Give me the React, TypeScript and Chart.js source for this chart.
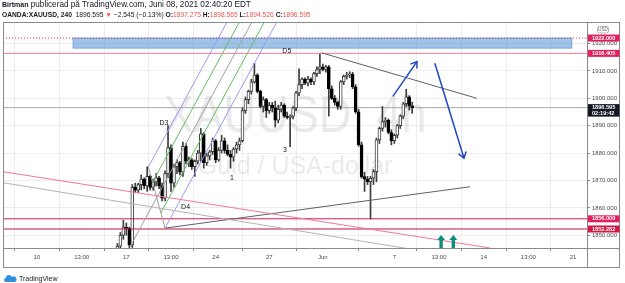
import React, { useEffect, useRef } from 'react';
import { Chart, registerables } from 'chart.js';

Chart.register(...registerables);

const FONT = '"Liberation Sans", Arial, sans-serif';

// ---------- axes (x unit = 4h bar index, 0 = first bar of 10 May) ----------
const X_MIN = -11.42;
const X_MAX = 184.7;
const Y_MIN = 1845.34;
const Y_MAX = 1927.86;
const X_TICK_VALUES = [0, 15, 30, 45, 60, 78, 96, 120, 135, 150, 165, 180];
const X_TICK_LABELS = ['10', '13:00', '17', '13:00', '24', '27', 'Jun', '7', '13:00', '14', '13:00', '21'];
const Y_TICK_VALUES = [1850, 1860, 1870, 1880, 1890, 1900, 1910, 1920];

// ---------- candles ----------
const FIRST_BAR = 27;
const OPENS = [
  1843.5, 1846, 1850, 1853, 1852.5, 1846.5, 1867.5, 1866.5, 1868.5, 1870.5,
  1868, 1871.5, 1867.5, 1869.5, 1871, 1868, 1863.5, 1872.5, 1882, 1869,
  1875, 1876.5, 1873, 1882.5, 1877, 1877.5, 1875, 1877, 1880, 1887,
  1876.5, 1879, 1880.5, 1884.5, 1877.5, 1881, 1884.5, 1881, 1879.5, 1878.5,
  1881.5, 1883, 1884.5, 1895.5, 1899.5, 1902.5, 1906, 1908.5, 1902.5, 1897,
  1899.5, 1895.5, 1897.5, 1896.5, 1892, 1896, 1897.5, 1893.5, 1893, 1893.5,
  1896.5, 1902, 1905, 1907, 1905.5, 1907, 1906, 1909, 1910.5, 1911.5,
  1910.5, 1911.5, 1903.5, 1900, 1898.5, 1897, 1906, 1908, 1908.5, 1908.8,
  1904.2, 1895.1, 1883, 1871.4, 1870.5, 1869.6, 1870.8, 1873.2, 1884.8, 1889,
  1891.5, 1892, 1887.5, 1884.5, 1886.5, 1890, 1893.5, 1898, 1900.5, 1897.275,
];
const HIGHS = [
  1847, 1851, 1855.5, 1854.5, 1853, 1868.5, 1869, 1869, 1872, 1871,
  1875, 1872, 1870.5, 1872.5, 1871.5, 1869, 1873.5, 1890, 1883, 1876,
  1877.5, 1877, 1884, 1883.5, 1878.5, 1878, 1877.5, 1881, 1889, 1887.5,
  1880, 1881, 1885.5, 1885, 1882, 1886.5, 1885.5, 1883, 1881, 1882,
  1884, 1885.5, 1896.5, 1900.5, 1903, 1907, 1912.8, 1909, 1903, 1900.5,
  1900, 1898.5, 1898.5, 1899, 1897.5, 1898.5, 1898, 1895, 1894, 1897,
  1902.5, 1910.8, 1907.5, 1907.5, 1908, 1907.5, 1909.5, 1911.5, 1916.4, 1912.5,
  1912, 1912, 1904.5, 1901, 1899, 1906.5, 1908.5, 1909.5, 1909.7, 1909.5,
  1905, 1896, 1884, 1873, 1871.5, 1871.5, 1874, 1885.5, 1889.5, 1897,
  1893, 1892.5, 1888.5, 1887, 1890.5, 1894, 1898.5, 1903.3, 1901, 1898.565,
];
const LOWS = [
  1842.5, 1845, 1848.5, 1850, 1845.5, 1845.5, 1865.5, 1865.5, 1866.5, 1867,
  1866, 1866.5, 1866.5, 1868, 1867, 1862.5, 1862.5, 1871, 1866, 1867.5,
  1872.5, 1872, 1871.5, 1876, 1875, 1874, 1871.5, 1876, 1877, 1874.5,
  1875.5, 1877.5, 1879.5, 1876.5, 1877, 1880, 1880, 1879, 1874.5, 1877,
  1880, 1881, 1884, 1894.5, 1898, 1901.5, 1905.5, 1902, 1896.5, 1895,
  1893, 1894.5, 1895, 1889.5, 1891, 1895, 1893, 1892.5, 1882.3, 1892.5,
  1895.5, 1901, 1903.5, 1905, 1904.5, 1905, 1905, 1908, 1909, 1910,
  1909.5, 1893.5, 1899.5, 1897.5, 1896, 1896, 1905, 1907, 1907.5, 1903.5,
  1894.5, 1882.5, 1870.8, 1866, 1868.5, 1855.9, 1868.5, 1869.5, 1883.5, 1888,
  1889.5, 1887, 1883, 1883.5, 1885.5, 1889, 1892.5, 1897, 1895.7, 1894.526,
];
const CLOSES = [
  1846, 1850, 1853, 1852.5, 1846.5, 1867.5, 1866.5, 1868.5, 1870.5, 1868,
  1871.5, 1867.5, 1869.5, 1871, 1868, 1863.5, 1872.5, 1882, 1869, 1875,
  1876.5, 1873, 1882.5, 1877, 1877.5, 1875, 1877, 1880, 1887, 1876.5,
  1879, 1880.5, 1884.5, 1877.5, 1881, 1884.5, 1881, 1879.5, 1878.5, 1881.5,
  1883, 1884.5, 1895.5, 1899.5, 1902.5, 1906, 1908.5, 1902.5, 1897, 1899.5,
  1895.5, 1897.5, 1896.5, 1892, 1896, 1897.5, 1893.5, 1893, 1893.5, 1896.5,
  1902, 1905, 1907, 1905.5, 1907, 1906, 1909, 1910.5, 1911.5, 1910.5,
  1911.5, 1903.5, 1900, 1898.5, 1897, 1906, 1908, 1908.5, 1908.8, 1904.2,
  1895.1, 1883, 1871.4, 1870.5, 1869.6, 1870.8, 1873.2, 1884.8, 1889, 1891.5,
  1892, 1887.5, 1884.5, 1886.5, 1890, 1893.5, 1898, 1900.5, 1897.3, 1896.595,
];

// ---------- drawings (bar index, price) ----------
const PITCHFORK_A = { x: 31.2, y: 1845.7 };
const PITCHFORK_B = { x: 37.4, y: 1874.9 };
const PITCHFORK_C = { x: 43.0, y: 1852.6 };
const PITCHFORK_END_PRICE = 1935;
const TREND_UPPER = [{ x: 95.6, y: 1916.6 }, { x: 147.7, y: 1900.0 }];
const TREND_LOWER = [{ x: 43.0, y: 1852.6 }, { x: 145.4, y: 1867.7 }];
const PINK_DIAGONAL = [{ x: -11.42, y: 1873.2 }, { x: 152.1, y: 1845.35 }];
const GRAY_DIAGONAL = [{ x: -11.42, y: 1869.19 }, { x: 125, y: 1845.02 }];
const ARROW_UP = [{ x: 119.5, y: 1900.7 }, { x: 127.6, y: 1913.4 }];
const ARROW_DOWN = [{ x: 133.6, y: 1912.8 }, { x: 143.4, y: 1878.1 }];
const BUY_MARKS = [{ x: 135.7, y: 1850.1 }, { x: 139.8, y: 1850.1 }];
const NOTES = [
  { text: 'D3', x: 42.6, y: 1891.0 },
  { text: 'D4', x: 49.9, y: 1860.2 },
  { text: 'D5', x: 83.9, y: 1917.4 },
  { text: '1', x: 65.5, y: 1870.9 },
  { text: '3', x: 83.3, y: 1881.1 },
];
const ZONE = { x1: 12.1, x2: 179.6, low: 1918.3, high: 1922 };
const LEVEL_DOTTED = 1922;
const LEVEL_HIGH = 1916.405;
const LAST_PRICE = 1896.595;
const LEVEL_SUPPORT = 1856;
const LEVEL_LOW = 1852.282;
const COUNTDOWN = '02:19:42';
const WATERMARK_TITLE = 'XAUUSD, 4h';
const WATERMARK_SUB = 'Guld / USA-dollar';

const mid = (p: any, q: any) => ({ x: (p.x + q.x) / 2, y: (p.y + q.y) / 2 });

function buildDatasets() {
  const idx = OPENS.map((_, i) => FIRST_BAR + i);
  const up = OPENS.map((o, i) => CLOSES[i] >= o);
  const seg = (data: any[], color: string, width = 1, dash: number[] = [], order = 2) => ({
    type: 'line',
    data,
    borderColor: color,
    borderWidth: width,
    borderDash: dash,
    pointRadius: 0,
    fill: false,
    tension: 0,
    order,
  });
  const hline = (v: number, color: string, dash: number[] = [], order = 3) =>
    seg([{ x: X_MIN - 5, y: v }, { x: X_MAX + 5, y: v }], color, 1, dash, order);

  const M = mid(PITCHFORK_B, PITCHFORK_C);
  const dir = { x: M.x - PITCHFORK_A.x, y: M.y - PITCHFORK_A.y };
  const ext = (p: any) => {
    const t = (PITCHFORK_END_PRICE - p.y) / dir.y;
    return [p, { x: p.x + dir.x * t, y: PITCHFORK_END_PRICE }];
  };
  const BM = mid(PITCHFORK_B, M);
  const MC = mid(M, PITCHFORK_C);

  return [
    {
      type: 'bar',
      data: idx.map((x, i) => ({ x, y: [OPENS[i], CLOSES[i]] })),
      backgroundColor: up.map((u) => (u ? '#ffffff' : '#000000')),
      borderColor: up.map((u) => (u ? '#3c3c3c' : '#000000')),
      borderWidth: 1,
      borderSkipped: false,
      barThickness: 3,
      minBarLength: 1,
      grouped: false,
      order: 8,
    },
    {
      type: 'bar',
      data: idx.map((x, i) => ({ x, y: [LOWS[i], HIGHS[i]] })),
      backgroundColor: '#3c3c3c',
      borderWidth: 0,
      barThickness: 1,
      grouped: false,
      order: 9,
    },
    hline(LAST_PRICE, '#a8a8a8', [], 10),
    hline(LEVEL_DOTTED, '#d81b60', [1, 2]),
    hline(LEVEL_HIGH, '#f27a9b'),
    hline(LEVEL_SUPPORT, '#d3185a'),
    hline(LEVEL_LOW, '#c4123c'),
    seg(PINK_DIAGONAL, '#f0789c'),
    seg(GRAY_DIAGONAL, '#b4b4b4'),
    seg(ext(PITCHFORK_A), '#a0a0a0'),
    seg(ext(PITCHFORK_B), '#9a9af0'),
    seg(ext(PITCHFORK_C), '#9a9af0'),
    seg(ext(BM), '#63bd63'),
    seg(ext(MC), '#63bd63'),
    seg([PITCHFORK_B, PITCHFORK_C], '#a0a0a0'),
    seg(TREND_UPPER, '#5d606b'),
    seg(TREND_LOWER, '#5d606b'),
    seg(ARROW_UP, '#1f47c4', 1.5, [], 1),
    seg(ARROW_DOWN, '#1f47c4', 1.5, [], 1),
  ];
}

const decorPlugin = {
  id: 'tvDecor',
  beforeDatasetsDraw(chart: any) {
    const { ctx, chartArea: a, scales } = chart;
    const sx = scales.x;
    const sy = scales.y;
    ctx.save();
    ctx.beginPath();
    ctx.rect(a.left, a.top, a.right - a.left, a.bottom - a.top);
    ctx.clip();
    const cx = (a.left + a.right) / 2;
    const cy = (a.top + a.bottom) / 2;
    ctx.fillStyle = 'rgba(19,23,34,0.09)';
    ctx.textAlign = 'center';
    ctx.textBaseline = 'alphabetic';
    ctx.font = `52px ${FONT}`;
    const w = ctx.measureText(WATERMARK_TITLE).width;
    ctx.save();
    ctx.translate(cx, cy - 3);
    ctx.scale(263 / w, 1);
    ctx.fillText(WATERMARK_TITLE, 0, 0);
    ctx.restore();
    ctx.font = `25px ${FONT}`;
    ctx.fillText(WATERMARK_SUB, cx, cy + 39);

    const x1 = sx.getPixelForValue(ZONE.x1);
    const x2 = sx.getPixelForValue(ZONE.x2);
    const y1 = sy.getPixelForValue(ZONE.high);
    const y2 = sy.getPixelForValue(ZONE.low);
    ctx.fillStyle = 'rgba(45,125,205,0.45)';
    ctx.fillRect(x1, y1, x2 - x1, y2 - y1);
    ctx.strokeStyle = 'rgba(45,125,205,0.55)';
    ctx.lineWidth = 1;
    ctx.strokeRect(x1, y1, x2 - x1, y2 - y1);
    ctx.restore();
  },
  afterDatasetsDraw(chart: any) {
    const { ctx, chartArea: a, scales } = chart;
    const sx = scales.x;
    const sy = scales.y;
    ctx.save();
    ctx.beginPath();
    ctx.rect(a.left, a.top, a.right - a.left, a.bottom - a.top);
    ctx.clip();
    ctx.strokeStyle = '#1f47c4';
    ctx.lineWidth = 1.5;
    [ARROW_UP, ARROW_DOWN].forEach((pts) => {
      const xa = sx.getPixelForValue(pts[0].x);
      const ya = sy.getPixelForValue(pts[0].y);
      const xb = sx.getPixelForValue(pts[1].x);
      const yb = sy.getPixelForValue(pts[1].y);
      const ang = Math.atan2(yb - ya, xb - xa);
      const L = 7;
      const s = 0.6;
      ctx.beginPath();
      ctx.moveTo(xb - L * Math.cos(ang - s), yb - L * Math.sin(ang - s));
      ctx.lineTo(xb, yb);
      ctx.lineTo(xb - L * Math.cos(ang + s), yb - L * Math.sin(ang + s));
      ctx.stroke();
    });
    ctx.fillStyle = '#0e8f7e';
    BUY_MARKS.forEach((m) => {
      const px = sx.getPixelForValue(m.x);
      const py = sy.getPixelForValue(m.y);
      ctx.beginPath();
      ctx.moveTo(px, py);
      ctx.lineTo(px + 4, py + 5);
      ctx.lineTo(px + 1.7, py + 5);
      ctx.lineTo(px + 1.7, py + 13);
      ctx.lineTo(px - 1.7, py + 13);
      ctx.lineTo(px - 1.7, py + 5);
      ctx.lineTo(px - 4, py + 5);
      ctx.closePath();
      ctx.fill();
    });
    ctx.fillStyle = '#131722';
    ctx.font = `7px ${FONT}`;
    ctx.textAlign = 'center';
    ctx.textBaseline = 'middle';
    NOTES.forEach((n) => {
      ctx.fillText(n.text, sx.getPixelForValue(n.x), sy.getPixelForValue(n.y));
    });
    ctx.restore();
  },
  afterDraw(chart: any) {
    const { ctx, chartArea: a, scales } = chart;
    const sy = scales.y;
    const right = a.right + 33;
    const bottom = a.bottom + 20;
    ctx.save();
    ctx.strokeStyle = '#8a8a8a';
    ctx.lineWidth = 1;
    ctx.strokeRect(a.left + 0.5, a.top + 0.5, right - a.left - 1, bottom - a.top - 1);
    ctx.beginPath();
    ctx.moveTo(a.right + 0.5, a.top);
    ctx.lineTo(a.right + 0.5, bottom);
    ctx.moveTo(a.left, a.bottom + 0.5);
    ctx.lineTo(right, a.bottom + 0.5);
    ctx.stroke();

    ctx.strokeStyle = '#b0b0b0';
    ctx.beginPath();
    if (ctx.roundRect) ctx.roundRect(597.5, 26.5, 11, 6.5, 2);
    else ctx.rect(597.5, 26.5, 11, 6.5);
    ctx.stroke();
    ctx.fillStyle = '#6a6a6a';
    ctx.font = `4.5px ${FONT}`;
    ctx.textAlign = 'center';
    ctx.textBaseline = 'middle';
    ctx.fillText('USD', 603, 30);

    const tag = (v: number, color: string, text: string, sub?: string) => {
      const yp = sy.getPixelForValue(v);
      const h = sub ? 12.5 : 7;
      ctx.fillStyle = color;
      ctx.fillRect(a.right + 1, yp - 3.5, right - a.right - 1.5, h);
      ctx.fillStyle = '#ffffff';
      ctx.font = `bold 5.6px ${FONT}`;
      ctx.textAlign = 'left';
      ctx.textBaseline = 'middle';
      ctx.fillText(text, a.right + 5, yp);
      if (sub) ctx.fillText(sub, a.right + 5, yp + 6);
    };
    tag(LEVEL_DOTTED, '#e2205f', LEVEL_DOTTED.toFixed(3));
    tag(LEVEL_HIGH, '#e2205f', LEVEL_HIGH.toFixed(3));
    tag(LAST_PRICE, '#131722', LAST_PRICE.toFixed(3), COUNTDOWN);
    tag(LEVEL_SUPPORT, '#e2205f', LEVEL_SUPPORT.toFixed(3));
    tag(LEVEL_LOW, '#d21744', LEVEL_LOW.toFixed(3));
    ctx.restore();
  },
};

export default function App() {
  const ref = useRef<HTMLCanvasElement | null>(null);
  useEffect(() => {
    document.body.style.margin = '0';
    const canvas = ref.current;
    if (!canvas) return;
    const chart = new Chart(canvas, {
      type: 'bar',
      data: { datasets: buildDatasets() as any },
      options: {
        responsive: false,
        animation: false,
        devicePixelRatio: 1,
        events: [],
        layout: { padding: { left: 3, top: 22, right: 5, bottom: 15 } },
        plugins: { legend: { display: false }, tooltip: { enabled: false } },
        scales: {
          x: {
            type: 'linear',
            min: X_MIN,
            max: X_MAX,
            offset: false,
            afterBuildTicks: (s: any) => {
              s.ticks = X_TICK_VALUES.map((v) => ({ value: v }));
            },
            afterFit: (s: any) => {
              s.height = 20;
            },
            grid: { color: '#ededed', tickColor: '#8a8a8a', tickLength: 3 },
            border: { display: false },
            ticks: {
              autoSkip: false,
              maxRotation: 0,
              padding: 3,
              color: '#4a4a4a',
              font: { family: FONT, size: 6 },
              callback: (v: any) => {
                const i = X_TICK_VALUES.indexOf(Number(v));
                return i >= 0 ? X_TICK_LABELS[i] : '';
              },
            },
          },
          y: {
            type: 'linear',
            position: 'right',
            min: Y_MIN,
            max: Y_MAX,
            afterBuildTicks: (s: any) => {
              s.ticks = Y_TICK_VALUES.map((v) => ({ value: v }));
            },
            afterFit: (s: any) => {
              s.width = 33;
            },
            grid: { color: '#ededed', tickColor: '#8a8a8a', tickLength: 3 },
            border: { display: false },
            ticks: {
              padding: 2,
              color: '#4a4a4a',
              font: { family: FONT, size: 6 },
              callback: (v: any) => Number(v).toFixed(3),
            },
          },
        },
      } as any,
      plugins: [decorPlugin as any],
    });
    return () => chart.destroy();
  }, []);

  const red = { color: '#ef5350' };
  return (
    <div style={{ position: 'fixed', left: 0, top: 0, width: 625, height: 283, background: '#ffffff', overflow: 'hidden' }}>
      <canvas ref={ref} width={625} height={283} style={{ position: 'absolute', left: 0, top: 0, width: 625, height: 283 }} />
      <div style={{ position: 'absolute', left: 2, top: 0, color: '#131722', whiteSpace: 'nowrap', fontFamily: FONT }}>
        <div style={{ fontSize: 8.2, lineHeight: '10px', height: 10 }}>
          <b style={{ fontSize: 7 }}>Birtman</b> publicerad på TradingView.com, Juni 08, 2021 02:40:20 EDT
        </div>
        <div style={{ fontSize: 6.7, lineHeight: '10px', height: 10 }}>
          <b>OANDA:XAUUSD, 240</b>&nbsp; 1896.595 <span style={red}>▼</span> −2.545 (−0.13%) <b>O:</b>
          <span style={red}>1897.275</span> <b>H:</b><span style={red}>1898.565</span> <b>L:</b>
          <span style={red}>1894.526</span> <b>C:</b><span style={red}>1896.595</span>
        </div>
      </div>
      <div style={{ position: 'absolute', left: 4, top: 274, display: 'flex', alignItems: 'center', font: `7px ${FONT}`, color: '#131722' }}>
        <svg width="13" height="8" viewBox="0 0 13 8" style={{ marginRight: 2 }}>
          <path d="M2 8 Q0 8 0 6 Q0 4 2 4 Q2 1 5 1 Q7 1 8 3 Q9 2 10.5 2.5 Q13 3.5 12.5 6 Q12.5 8 10 8 Z" fill="#2f8fe0" />
        </svg>
        <span>TradingView</span>
      </div>
    </div>
  );
}
